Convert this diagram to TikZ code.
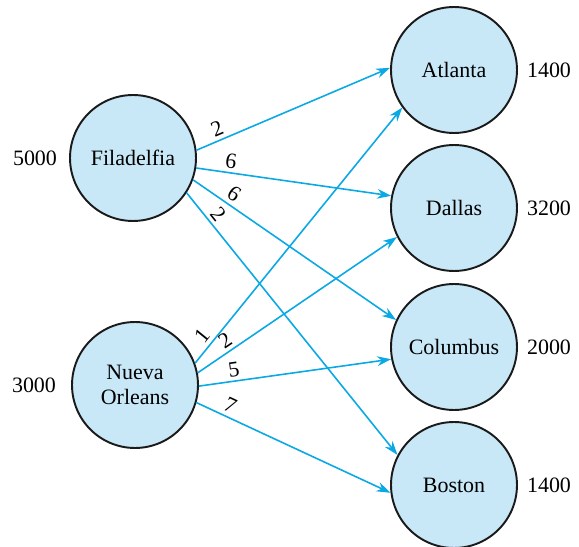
\documentclass[tikz,border=0pt]{standalone}
\usepackage{fontspec}
\setmainfont{Liberation Serif}
\usepackage{xcolor}
\usetikzlibrary{positioning,arrows.meta}
\definecolor{cCity}{HTML}{C8E8F8}
\definecolor{cRoute}{HTML}{0AA8E4}
\definecolor{cRim}{HTML}{1A1A1A}
\tikzset{
  city/.style={circle, draw=cRim, fill=cCity, line width=1.1pt,
               minimum size=2.52cm, inner sep=0pt, align=center,
               font=\fontsize{12.5}{14}\selectfont},
  amount/.style={font=\fontsize{12.5}{14}\selectfont, inner sep=0pt},
  route/.style={-{Stealth[length=8pt, width=5.5pt]}, line width=0.9pt, draw=cRoute},
  cost/.style={font=\fontsize{12.5}{14}\selectfont, sloped, above, inner sep=2pt},
}

\begin{document}
\begin{tikzpicture}[x=0.02cm, y=-0.02cm]
\useasboundingbox (0,0) rectangle (579,547);

% ========== SOURCES ==========
\node[city] (fil) at (133,158) {Filadelfia};
\node[city] (nor) at (135,385) {Nueva\\Orleans};
\node[amount] (sfil) at (35,158) {5000};
\node[amount] (snor) at (34,385) {3000};

% ========== DESTINATIONS ==========
\foreach \name/\txt/\y/\dem in {atl/Atlanta/70/1400, dal/Dallas/208/3200,
                                col/Columbus/347/2000, bos/Boston/485/1400} {
  \node[city] (\name) at (454,\y) {\txt};
  \node[amount] (d\name) at (549,\y) {\dem};
}

% ========== ROUTES ==========
\foreach \a/\b/\s/\t/\c/\p in {fil/atl/7/178/2/0.13, fil/dal/-9/169/6/0.17,
                               fil/col/-20/155/6/0.17, fil/bos/-33/152/2/0.11,
                               nor/atl/20/216/1/0.08, nor/dal/11/207/2/0.17,
                               nor/col/-1/191/5/0.19, nor/bos/-16/187/7/0.15}
  \draw[route] (\a.\s) -- node[cost, pos=\p] {\c} (\b.\t);

\end{tikzpicture}
\end{document}
